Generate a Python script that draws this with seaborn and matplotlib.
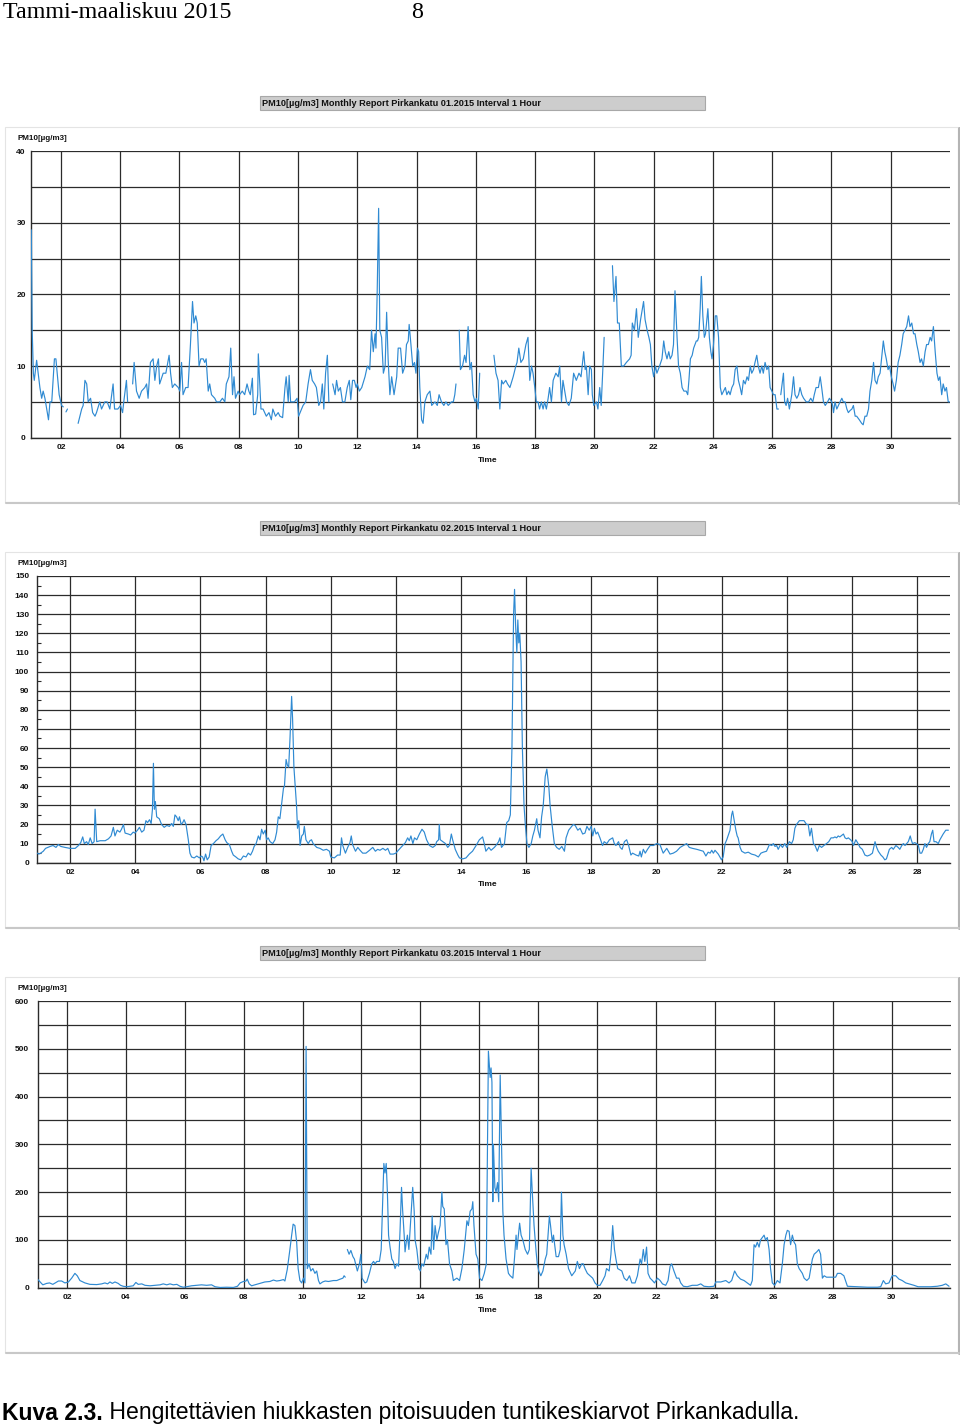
import numpy as np
import pandas as pd
import matplotlib
matplotlib.use("Agg")
import matplotlib.pyplot as plt
import seaborn as sns
from matplotlib.patches import Rectangle
from matplotlib import font_manager

# ---------------- data (day of month as fractional day, PM10 hourly values) ----------------
jan_obs = [
(1.00,29),(1.03,15),(1.07,9),(1.10,8),(1.18,10.8),(1.29,7),(1.35,5.5),(1.40,6.5),(1.46,5.5),(1.52,4),
(1.58,2.5),(1.63,5),(1.69,5),(1.78,11),(1.83,11),(1.94,6),(2.02,4.5),(2.08,4.3),(2.12,np.nan),(2.17,3.6),
(2.22,4),(2.25,np.nan),(2.58,2),(2.64,3),(2.70,4),(2.75,4.5),(2.81,8),(2.87,7.5),(2.92,5),(3.00,5.5),
(3.07,3.5),(3.15,3),(3.20,3.5),(3.31,5),(3.37,4),(3.48,5),(3.56,5),(3.65,4),(3.76,7.5),(3.81,4),
(3.92,4),(4.01,4.5),(4.08,3.5),(4.12,5),(4.21,8),(4.25,5),(4.30,np.nan),(4.42,7.5),(4.47,10.5),(4.55,6.5),
(4.64,5.5),(4.72,6.5),(4.83,7),(4.89,7.5),(4.94,5.5),(5.02,10.5),(5.11,11),(5.17,8),(5.23,10),(5.29,11),
(5.33,7.5),(5.45,9),(5.54,9),(5.65,11.5),(5.70,9),(5.76,7),(5.84,7.5),(5.96,7),(6.01,6.5),(6.07,10.5),
(6.12,6),(6.21,7),(6.29,7),(6.37,13),(6.44,19),(6.49,16),(6.55,17),(6.60,16),(6.66,10),(6.72,11),
(6.80,11),(6.85,10.5),(6.90,11),(6.97,6.5),(7.02,7.5),(7.08,6),(7.19,5.5),(7.25,5),(7.36,5),(7.45,5.5),
(7.53,5),(7.58,7.5),(7.67,8.5),(7.73,12.5),(7.79,6),(7.84,8.5),(7.89,5.5),(7.98,6.5),(8.03,6),(8.12,6.5),
(8.20,6),(8.28,7.5),(8.34,6.5),(8.39,6),(8.46,8.3),(8.50,3.2),(8.57,3.3),(8.64,6),(8.66,11.7),(8.75,4),
(8.82,4),(8.93,3),(9.02,3.5),(9.10,2.5),(9.15,4),(9.24,3),(9.33,3.5),(9.39,3),(9.48,2.8),(9.56,7),
(9.60,8.5),(9.67,5),(9.70,8.7),(9.75,5),(9.88,5),(9.97,5.5),(10.02,3),(10.07,3.5),(10.17,4.5),(10.26,5),
(10.34,7.5),(10.42,9.5),(10.48,8),(10.56,7.5),(10.62,7),(10.70,4.5),(10.76,5),(10.82,7.5),(10.87,4),(10.93,9),
(10.99,11.5),(11.04,5),(11.12,np.nan),(11.17,7.5),(11.25,6),(11.30,8),(11.36,6.5),(11.43,7),(11.50,5),(11.58,5),
(11.66,7),(11.73,8),(11.78,5.3),(11.84,8),(11.90,8),(11.96,7),(12.00,7.5),(12.07,6.5),(12.15,7),(12.26,8.5),
(12.34,10),(12.42,9.5),(12.48,15),(12.54,12),(12.60,14.5),(12.63,12.5),(12.67,20),(12.72,32),(12.76,15),(12.82,14),
(12.88,9),(12.94,10),(12.99,17.5),(13.04,11),(13.10,6),(13.16,8.5),(13.24,6),(13.33,8.5),(13.38,12.5),(13.46,12.5),
(13.53,9),(13.61,10),(13.66,13),(13.72,13.5),(13.75,15.8),(13.81,13),(13.87,10),(13.93,10.5),(13.98,9),(14.03,12.5),
(14.07,12),(14.11,7),(14.17,2.5),(14.22,2),(14.28,5),(14.36,6),(14.45,6.5),(14.51,4.5),(14.62,5),(14.70,4.5),
(14.76,6),(14.84,5),(14.92,4.5),(14.99,5),(15.07,4.5),(15.18,5),(15.24,5),(15.29,6),(15.33,7.5),(15.38,np.nan),
(15.44,15),(15.48,9.5),(15.55,10),(15.62,11.5),(15.67,10.5),(15.74,15.5),(15.80,9.5),(15.85,10.5),(15.91,6),(15.97,5),
(16.02,5.5),(16.08,4),(16.13,9),(16.18,np.nan),(16.61,11.5),(16.68,9),(16.75,8),(16.81,4),(16.87,8),(16.92,7.5),
(17.01,8),(17.07,7.5),(17.15,7),(17.26,8.5),(17.35,10),(17.39,10.5),(17.45,12.5),(17.52,10.5),(17.60,11),(17.69,13),
(17.76,14),(17.82,8),(17.88,10),(17.93,9),(17.99,7),(18.04,5),(18.10,5),(18.15,4),(18.21,5),(18.27,4),
(18.32,5),(18.38,4),(18.44,5.5),(18.49,7),(18.55,5),(18.61,8),(18.70,9),(18.78,8.5),(18.83,10),(18.89,5),
(18.94,8),(19.00,6.5),(19.06,5),(19.14,4.5),(19.22,5.5),(19.30,9),(19.39,8),(19.48,9),(19.55,8.5),(19.64,12),
(19.69,9.5),(19.73,10),(19.79,6),(19.84,10),(19.90,9.5),(19.93,6),(19.98,4.5),(20.07,5),(20.12,4),(20.18,7),
(20.23,4.5),(20.29,10),(20.33,14),(20.38,np.nan),(20.61,24),(20.66,19),(20.73,22.5),(20.78,16),(20.84,16),(20.91,10),
(20.99,10),(21.08,10.5),(21.19,11),(21.24,11.5),(21.28,16),(21.35,15),(21.42,18),(21.48,14),(21.56,16.5),(21.66,19),
(21.71,16.5),(21.78,15),(21.84,14),(21.89,13),(21.94,10),(22.00,8.5),(22.06,10),(22.11,9),(22.20,10),(22.28,11),
(22.34,13.5),(22.39,12),(22.45,11),(22.51,12),(22.56,11),(22.62,11.5),(22.67,13),(22.72,20.5),(22.79,14),(22.84,10),
(22.90,9),(22.96,7),(23.02,6.5),(23.10,6.5),(23.15,6),(23.19,8),(23.24,11),(23.30,11.5),(23.35,12.5),(23.44,13.5),
(23.48,13.5),(23.52,14),(23.57,18),(23.61,22.5),(23.66,17),(23.71,14),(23.75,14.5),(23.83,18),(23.88,14),(23.93,12),
(23.97,11),(24.02,13),(24.08,17),(24.13,17),(24.19,14),(24.25,7),(24.30,6),(24.36,6.5),(24.42,7),(24.47,6),
(24.53,6.5),(24.58,6),(24.64,7),(24.70,7.5),(24.75,9.5),(24.81,10),(24.86,8),(24.92,7),(24.97,6),(25.03,8),
(25.09,7.5),(25.15,8.5),(25.20,8),(25.26,10),(25.31,9),(25.37,9.5),(25.42,10.5),(25.48,11.5),(25.53,10),(25.59,9),
(25.65,10),(25.70,9),(25.76,10.5),(25.82,9.5),(25.88,10),(25.93,7),(25.99,6.5),(26.04,6),(26.10,6),(26.16,4),
(26.21,4),(26.25,np.nan),(26.29,6),(26.38,9),(26.42,5),(26.47,4.5),(26.52,5.5),(26.58,4),(26.66,6),(26.72,8.5),
(26.77,6),(26.83,5.5),(26.89,6),(26.94,7),(27.00,6),(27.06,5.5),(27.15,5),(27.23,5),(27.30,5.5),(27.37,5),
(27.42,6),(27.48,7),(27.56,7),(27.62,8.5),(27.67,7),(27.73,5),(27.79,4.5),(27.87,5),(27.93,5.5),(28.01,5),
(28.04,4.5),(28.07,3.5),(28.12,5),(28.18,4),(28.29,5),(28.35,5.5),(28.40,5),(28.46,5),(28.52,4),(28.57,3.5),
(28.63,3.8),(28.69,4),(28.74,4.5),(28.80,3),(28.85,3),(28.94,2.5),(29.02,2),(29.07,1.8),(29.13,3),(29.19,3),
(29.25,4),(29.30,6.5),(29.36,8),(29.42,10.5),(29.47,8),(29.53,7.5),(29.58,8.5),(29.64,9),(29.69,11),(29.75,13.5),
(29.80,12),(29.85,11),(29.91,9.5),(29.96,10),(30.02,8.5),(30.08,7.5),(30.13,6.5),(30.19,8),(30.25,10.5),(30.31,11.5),
(30.37,13),(30.42,14.5),(30.48,15),(30.54,15.5),(30.60,17),(30.65,15.5),(30.71,16),(30.77,14.5),(30.82,14.5),(30.88,13),
(30.93,12),(30.99,10.5),(31.04,11),(31.10,10),(31.16,12),(31.21,13),(31.27,13),(31.33,14),(31.38,13.5),(31.44,15.5),
(31.50,12),(31.56,9),(31.61,8),(31.66,8.5),(31.72,6),(31.77,7.5),(31.83,6.5),(31.88,7),(31.94,5),(31.98,5),
]

feb_obs = [
(1.00,5),(1.04,4.5),(1.10,5),(1.18,6),(1.25,7.5),(1.39,8.5),(1.48,9),(1.57,8),(1.64,9.5),(1.72,8.5),
(1.85,8),(2.00,7.5),(2.16,7.5),(2.26,9),(2.33,10.5),(2.39,13.5),(2.44,10),(2.51,11),(2.56,9.5),(2.62,13),
(2.68,10),(2.74,11),(2.77,28),(2.82,11),(2.92,11.5),(3.08,11.5),(3.18,12.5),(3.26,14),(3.33,18.5),(3.38,14),
(3.45,17),(3.53,16),(3.58,17.5),(3.64,20),(3.69,15.5),(3.79,15),(3.86,14.5),(3.94,16),(3.99,15.5),(4.07,17),
(4.13,18.5),(4.20,16),(4.27,17),(4.33,22),(4.38,21),(4.44,22.5),(4.49,20.5),(4.53,28),(4.56,52),(4.59,28),
(4.62,32),(4.66,24),(4.74,23),(4.81,20),(4.89,18.5),(4.97,19.5),(5.05,19),(5.12,20.5),(5.17,19),(5.22,25),
(5.27,24),(5.32,22),(5.36,24),(5.41,20),(5.46,21),(5.50,22.5),(5.56,20),(5.63,12),(5.68,5),(5.73,3),
(5.81,2.5),(5.89,3.5),(5.97,2.5),(6.02,3.5),(6.07,3),(6.11,1),(6.16,4.5),(6.21,1.5),(6.27,3),(6.33,9),
(6.40,10),(6.48,11.5),(6.55,12.5),(6.62,14),(6.69,15),(6.76,12),(6.81,10.5),(6.89,9.5),(6.96,6),(7.01,4),
(7.09,3),(7.16,2),(7.24,1.5),(7.32,3.5),(7.40,3),(7.47,5),(7.54,4),(7.60,6),(7.65,8.5),(7.71,10),
(7.78,14),(7.83,12),(7.88,17.5),(7.93,15),(7.99,17),(8.03,12),(8.08,13),(8.14,11),(8.22,10),(8.29,12),
(8.34,16),(8.39,24),(8.44,23),(8.50,32),(8.55,39),(8.58,40),(8.63,54),(8.67,51),(8.71,50),(8.75,65),
(8.80,87),(8.83,75),(8.87,50),(8.91,40),(8.95,30),(8.98,18),(9.02,22),(9.06,9),(9.11,14),(9.16,15),
(9.19,19),(9.24,12),(9.31,10),(9.36,11.5),(9.41,12),(9.46,10),(9.57,8),(9.67,7.5),(9.77,6.5),(9.87,7),
(9.96,6),(10.00,3),(10.11,2.5),(10.21,4),(10.29,4),(10.33,13),(10.37,9),(10.45,5),(10.52,8),(10.59,10.5),
(10.63,14),(10.67,9.5),(10.76,6),(10.83,8),(10.90,6.5),(10.98,5),(11.08,5),(11.19,6.5),(11.29,8),(11.37,6),
(11.44,7),(11.51,6.5),(11.60,7.5),(11.68,6.5),(11.75,7.5),(11.82,4.5),(11.92,4.5),(12.00,5),(12.10,7),(12.21,9),
(12.29,10.5),(12.36,13),(12.41,11.5),(12.46,14),(12.52,10),(12.57,13),(12.64,12),(12.72,15),(12.80,17.5),(12.87,16),
(12.94,12),(13.03,9),(13.13,8),(13.21,9),(13.25,11),(13.31,12),(13.33,20),(13.36,12),(13.44,11),(13.52,10),
(13.59,8),(13.64,9),(13.70,15),(13.74,12),(13.82,7),(13.90,4),(13.95,2.5),(14.05,2),(14.15,2.5),(14.25,4.5),
(14.35,6),(14.46,9),(14.56,12),(14.66,13.5),(14.71,10),(14.76,6),(14.85,8),(14.92,6.5),(15.02,8),(15.07,9),
(15.15,11),(15.19,13),(15.24,8),(15.33,10),(15.40,21),(15.46,22),(15.51,25),(15.56,60),(15.61,130),(15.64,143),
(15.67,125),(15.71,110),(15.74,127),(15.77,115),(15.80,120),(15.84,105),(15.88,60),(15.93,30),(15.97,20),(16.02,10),
(16.08,8),(16.15,10),(16.20,14),(16.25,17),(16.32,23),(16.36,17),(16.42,13),(16.47,24),(16.52,30),(16.58,45),
(16.63,49),(16.69,40),(16.73,30),(16.79,20),(16.86,10),(16.93,8),(17.01,7),(17.09,8.5),(17.17,6),(17.22,13),
(17.30,17),(17.37,18.5),(17.44,20),(17.50,19.5),(17.58,17),(17.65,18),(17.73,15),(17.80,15.5),(17.86,19),(17.93,17),
(17.99,19),(18.04,14),(18.09,18),(18.14,15),(18.19,16),(18.26,13),(18.34,9),(18.39,11),(18.47,10),(18.55,12),
(18.65,13),(18.70,10),(18.75,9),(18.83,11),(18.88,8),(18.94,7),(19.01,11),(19.08,12),(19.14,9),(19.21,4),
(19.26,5),(19.37,4),(19.45,3.5),(19.49,6),(19.53,3),(19.59,7),(19.65,5),(19.72,7),(19.80,9),(19.90,9),
(20.00,10),(20.10,9.5),(20.20,5),(20.31,7.5),(20.41,4.5),(20.51,5),(20.61,6),(20.72,8),(20.82,9),(20.92,10),
(21.00,8),(21.10,7.5),(21.23,7),(21.33,6.5),(21.43,6),(21.51,3.5),(21.58,5.5),(21.64,5),(21.69,6.5),(21.74,5),
(21.79,6.5),(21.84,5.5),(21.89,4.5),(21.94,3),(21.99,1.5),(22.04,3),(22.10,10),(22.15,12),(22.20,14.5),(22.25,17),
(22.30,25),(22.33,27),(22.37,23),(22.43,17),(22.47,14),(22.50,13),(22.56,8),(22.61,6),(22.71,5),(22.81,5.5),
(22.91,4.5),(23.02,4),(23.12,3),(23.20,5),(23.27,5.5),(23.37,6),(23.46,9.5),(23.53,9),(23.58,10),(23.63,8.5),
(23.68,9),(23.73,7),(23.80,9.5),(23.86,8),(23.93,10),(23.99,8),(24.07,11),(24.14,10),(24.19,12),(24.24,18),
(24.29,20),(24.38,22),(24.45,22),(24.52,22),(24.60,20),(24.65,20),(24.70,14),(24.75,18),(24.81,10),(24.86,9),
(24.93,6),(24.99,9),(25.06,8),(25.13,9),(25.21,10),(25.28,11),(25.35,13),(25.42,13),(25.47,13.5),(25.52,13),
(25.57,14),(25.62,13.5),(25.73,15),(25.78,13),(25.83,12.5),(25.88,13),(25.95,12),(26.00,11),(26.04,9),(26.11,12),
(26.18,10),(26.24,8),(26.31,7),(26.39,4),(26.46,3.5),(26.54,4),(26.62,5),(26.70,11),(26.75,8),(26.80,6),
(26.88,4),(26.94,3),(27.00,1.5),(27.05,2),(27.14,7),(27.21,8),(27.26,7),(27.34,9),(27.41,8),(27.46,7),
(27.52,9),(27.57,10),(27.62,9),(27.67,10),(27.72,11),(27.78,14),(27.81,12),(27.85,10),(27.92,10.5),(27.97,10),
(28.03,9),(28.08,5),(28.13,5),(28.18,7),(28.23,10),(28.28,8),(28.33,10),(28.38,11),(28.43,15),(28.47,17),
(28.51,11),(28.57,11),(28.64,10),(28.69,12),(28.79,15),(28.87,17),(28.95,17),
]

mar_obs = [
(1.00,18),(1.09,12),(1.18,6),(1.31,9),(1.41,10),(1.52,7),(1.63,11),(1.71,14),(1.82,14),(1.93,10),
(2.05,12),(2.16,20),(2.27,30),(2.35,25),(2.44,15),(2.61,10),(2.78,7),(3.01,6.5),(3.18,8),(3.29,10),
(3.38,8),(3.46,12),(3.54,9),(3.63,12),(3.74,9),(3.82,5),(3.91,3),(4.03,2),(4.14,3),(4.25,4),
(4.34,11),(4.42,7),(4.54,8),(4.65,5),(4.82,4),(4.99,5),(5.16,6),(5.27,8),(5.39,6),(5.50,8),
(5.61,6),(5.73,7),(5.84,3),(5.95,1),(6.06,2),(6.23,4),(6.40,5),(6.57,6),(6.74,5),(6.91,6),
(7.03,2),(7.20,0.5),(7.42,1),(7.65,0.5),(7.79,3),(7.88,10),(7.99,13),(8.08,14),(8.12,18),(8.19,8),
(8.27,4),(8.38,6),(8.55,9),(8.72,12),(8.89,13),(9.01,16),(9.12,14),(9.23,15),(9.35,17),(9.40,14),
(9.48,38),(9.57,80),(9.63,110),(9.68,133),(9.74,130),(9.80,95),(9.85,40),(9.91,15),(9.97,10),(10.03,20),
(10.08,10),(10.12,505),(10.16,40),(10.22,50),(10.28,35),(10.35,40),(10.42,30),(10.48,35),(10.54,15),(10.59,8),
(10.68,12),(10.77,14),(10.88,13),(11.05,15),(11.16,15),(11.28,18),(11.37,20),(11.41,25),(11.45,22),(11.48,np.nan),
(11.52,80),(11.58,70),(11.64,78),(11.71,65),(11.76,60),(11.82,45),(11.86,35),(11.93,50),(11.98,70),(12.02,20),
(12.07,15),(12.12,10),(12.18,12),(12.27,30),(12.35,50),(12.41,55),(12.46,50),(12.52,55),(12.61,55),(12.67,80),
(12.72,180),(12.76,260),(12.80,240),(12.84,260),(12.88,200),(12.92,110),(12.97,85),(13.03,60),(13.08,55),(13.14,40),
(13.20,50),(13.26,45),(13.31,120),(13.36,210),(13.40,160),(13.45,110),(13.48,75),(13.52,95),(13.56,110),(13.61,80),
(13.68,150),(13.74,210),(13.79,160),(13.82,100),(13.88,80),(13.95,40),(14.00,35),(14.05,50),(14.11,45),(14.20,70),
(14.25,60),(14.30,85),(14.36,70),(14.40,150),(14.45,80),(14.50,130),(14.56,100),(14.61,115),(14.67,130),(14.73,200),
(14.76,170),(14.81,165),(14.87,90),(14.92,100),(14.99,50),(15.07,35),(15.12,15),(15.24,20),(15.33,15),(15.41,40),
(15.49,80),(15.58,140),(15.63,130),(15.69,160),(15.75,165),(15.78,180),(15.82,130),(15.89,70),(15.95,60),(16.01,20),
(16.09,15),(16.17,30),(16.24,50),(16.28,300),(16.31,495),(16.37,440),(16.40,460),(16.43,430),(16.46,180),(16.48,300),
(16.53,210),(16.57,200),(16.62,220),(16.66,180),(16.71,445),(16.74,350),(16.80,160),(16.84,110),(16.91,60),(16.99,30),
(17.05,25),(17.14,20),(17.20,65),(17.25,110),(17.28,80),(17.33,110),(17.37,135),(17.42,110),(17.48,100),(17.56,80),
(17.64,70),(17.70,80),(17.76,250),(17.80,200),(17.86,130),(17.93,75),(17.97,50),(18.02,35),(18.09,25),(18.16,35),
(18.24,60),(18.29,70),(18.38,150),(18.42,130),(18.48,95),(18.52,110),(18.56,90),(18.61,65),(18.69,65),(18.75,80),
(18.79,200),(18.84,110),(18.88,90),(18.95,70),(19.03,40),(19.14,25),(19.26,35),(19.33,55),(19.40,40),(19.48,50),
(19.53,50),(19.59,40),(19.67,30),(19.76,25),(19.85,20),(19.93,10),(20.01,5),(20.10,5),(20.19,15),(20.27,25),
(20.32,40),(20.41,35),(20.47,70),(20.53,130),(20.59,80),(20.64,60),(20.70,40),(20.84,35),(20.92,20),(21.01,15),
(21.10,25),(21.18,10),(21.29,10),(21.37,25),(21.46,60),(21.51,50),(21.57,80),(21.62,55),(21.68,85),(21.73,30),
(21.80,20),(21.88,15),(21.95,10),(22.05,20),(22.14,15),(22.22,8),(22.33,5),(22.41,15),(22.48,45),(22.53,50),
(22.61,35),(22.70,20),(22.78,20),(22.84,10),(22.93,3),(23.06,2),(23.23,5),(23.40,5),(23.52,8),(23.63,3),
(23.80,2),(23.97,3),(24.03,12),(24.20,12),(24.37,15),(24.48,10),(24.57,15),(24.67,35),(24.76,25),(24.87,18),
(24.99,15),(25.10,10),(25.21,5),(25.27,15),(25.33,90),(25.38,85),(25.44,95),(25.50,85),(25.55,100),(25.61,105),
(25.67,110),(25.72,100),(25.78,105),(25.84,80),(25.89,40),(25.95,10),(26.03,5),(26.12,15),(26.21,10),(26.29,50),
(26.35,90),(26.41,110),(26.46,120),(26.52,118),(26.57,90),(26.63,110),(26.69,95),(26.74,90),(26.80,50),(26.86,40),
(26.97,30),(27.03,20),(27.12,15),(27.20,20),(27.31,60),(27.37,70),(27.46,75),(27.53,80),(27.59,70),(27.65,20),
(27.71,25),(27.79,22),(27.99,22),(28.10,22),(28.16,30),(28.27,30),(28.38,25),(28.50,3),(28.84,2),(29.18,1),
(29.52,1),(29.63,2),(29.72,15),(29.80,8),(29.91,10),(30.02,25),(30.14,25),(30.25,18),(30.36,15),(30.48,10),
(30.65,7),(30.76,5),(30.90,2),(31.10,2),(31.33,2),(31.55,3),(31.72,5),(31.84,8),(31.95,3),
]

month_titles = [
    "PM10[\u00b5g/m3] Monthly Report Pirkankatu 01.2015 Interval 1 Hour",
    "PM10[\u00b5g/m3] Monthly Report Pirkankatu 02.2015 Interval 1 Hour",
    "PM10[\u00b5g/m3] Monthly Report Pirkankatu 03.2015 Interval 1 Hour",
]
month_days = [31, 28, 31]
y_max = [40, 150, 600]
y_label_step = [10, 10, 100]
y_grid_step = [5, 10, 50]
unit_label = "PM10[\u00b5g/m3]"
x_label = "Time"
page_header = "Tammi-maaliskuu 2015"
page_number = "8"
caption_bold = "Kuva 2.3."
caption_rest = " Hengitettävien hiukkasten pitoisuuden tuntikeskiarvot Pirkankadulla."

# ---------------- styling ----------------
sns.set_theme(style="white")
plt.rcParams["font.family"] = ["Liberation Sans", "DejaVu Sans"]

W, H = 960, 1428
fig = plt.figure(figsize=(W / 100, H / 100), dpi=100)
fig.patch.set_facecolor("white")

def fx(px):
    return px / W

def fy(py):
    return 1 - py / H

LINE_COLOR = "#2f8ad2"
GRID_COLOR = "#2b2b2b"
TICK_FS = 6.0

# pixel geometry of each panel: (axes left, axes right, axes top, axes bottom, vertical offset)
panel_geom = [
    (31.3, 950.0, 151.0, 437.7, 0),
    (37.4, 950.0, 576.0, 862.7, 425),
    (37.5, 950.5, 1001.0, 1287.7, 850),
]

all_obs = [jan_obs, feb_obs, mar_obs]

for i, obs in enumerate(all_obs):
    left, right, top, bottom, off = panel_geom[i]

    # outer panel frame with shadow
    fig.add_artist(Rectangle((fx(5), fy(127 + off + 375)), fx(953), 375 / H,
                             transform=fig.transFigure, facecolor="white",
                             edgecolor="#e4e4e4", lw=0.8, zorder=-2))
    fig.add_artist(plt.Line2D([fx(958.5), fx(958.5)], [fy(128 + off), fy(503 + off)],
                              transform=fig.transFigure, color="#b4b4b4", lw=2.2, zorder=-1))
    fig.add_artist(plt.Line2D([fx(6), fx(959)], [fy(503 + off), fy(503 + off)],
                              transform=fig.transFigure, color="#c8c8c8", lw=1.5, zorder=-1))

    # report title box
    fig.add_artist(Rectangle((fx(260), fy(110 + off)), fx(445), 14 / H,
                             transform=fig.transFigure, facecolor="#cdcdcd",
                             edgecolor="#a8a8a8", lw=0.8, zorder=-1))
    fig.text(fx(262), fy(103.5 + off), month_titles[i], fontsize=6.6, fontweight="bold",
             va="center", ha="left", color="#111111")

    # y unit label
    fig.text(fx(18), fy(138.5 + off), unit_label, fontsize=5.8, va="center", ha="left",
             color="#111111", fontweight="bold")
    # x label
    fig.text(fx(488), fy(460 + off), x_label, fontsize=TICK_FS, va="center", ha="center",
             color="#111111", fontweight="bold")

    ax = fig.add_axes([fx(left), fy(bottom), fx(right - left), (bottom - top) / H])
    ax.set_facecolor("white")

    df = pd.DataFrame(obs, columns=["day", "pm10"])
    df["seg"] = df["pm10"].isna().cumsum()
    df = df.dropna()
    sns.lineplot(data=df, x="day", y="pm10", units="seg", estimator=None,
                 color=LINE_COLOR, linewidth=0.85, ax=ax, legend=False, zorder=3)

    nd = month_days[i]
    ax.set_xlim(1, nd + 1)
    ax.set_ylim(0, y_max[i])
    xt = list(range(2, nd + 1, 2))
    ax.set_xticks(xt)
    ax.set_xticklabels([f"{d:02d}" for d in xt])
    yt = list(range(0, y_max[i] + 1, y_label_step[i]))
    ax.set_yticks(yt)
    ax.set_yticklabels([str(v) for v in yt])
    ax.set_yticks(list(range(0, y_max[i] + 1, y_grid_step[i] if i != 1 else 5)), minor=True)
    ax.set_xlabel("")
    ax.set_ylabel("")

    ax.grid(False)
    for v in range(0, y_max[i] + 1, y_grid_step[i]):
        ax.axhline(v, color=GRID_COLOR, lw=0.9, zorder=1)
    for d in xt:
        ax.axvline(d, color=GRID_COLOR, lw=0.9, zorder=1)

    for s in ["top", "right"]:
        ax.spines[s].set_visible(False)
    for s in ["left", "bottom"]:
        ax.spines[s].set_visible(True)
        ax.spines[s].set_color(GRID_COLOR)
        ax.spines[s].set_linewidth(1.0)

    ax.tick_params(axis="both", which="major", length=0, labelsize=TICK_FS,
                   labelcolor="#111111")
    ax.tick_params(axis="x", which="major", pad=4.5)
    ax.tick_params(axis="y", which="major", pad=4 if i == 0 else 6)
    if i == 1:
        ax.tick_params(axis="y", which="minor", left=True, direction="in", length=3,
                       width=0.8, color=GRID_COLOR)
    else:
        ax.tick_params(axis="y", which="minor", left=False, length=0)
    for lab in ax.get_xticklabels() + ax.get_yticklabels():
        lab.set_fontweight("bold")

# ---------------- page header and caption ----------------
fig.text(fx(3), fy(12), page_header, fontsize=17.3, family=["Liberation Serif", "DejaVu Serif"],
         va="center", ha="left", color="black")
fig.text(fx(417), fy(12), page_number, fontsize=17.3, family=["Liberation Serif", "DejaVu Serif"],
         va="center", ha="center", color="black")

names = {f.name for f in font_manager.fontManager.ttflist}
cap_family = ["Liberation Sans Narrow", "Liberation Sans", "DejaVu Sans"] if "Liberation Sans Narrow" in names \
    else ["Liberation Sans", "DejaVu Sans"]
cap_fs = 16.6
t1 = fig.text(fx(2), fy(1413), caption_bold, fontsize=cap_fs, fontweight="bold",
              family=cap_family, va="center", ha="left", color="black")
renderer = fig.canvas.get_renderer()
bb = t1.get_window_extent(renderer=renderer)
fig.text(bb.x1 / W, fy(1413), caption_rest, fontsize=cap_fs, family=cap_family,
         va="center", ha="left", color="black")

fig.savefig("out.png", dpi=100, facecolor="white")
